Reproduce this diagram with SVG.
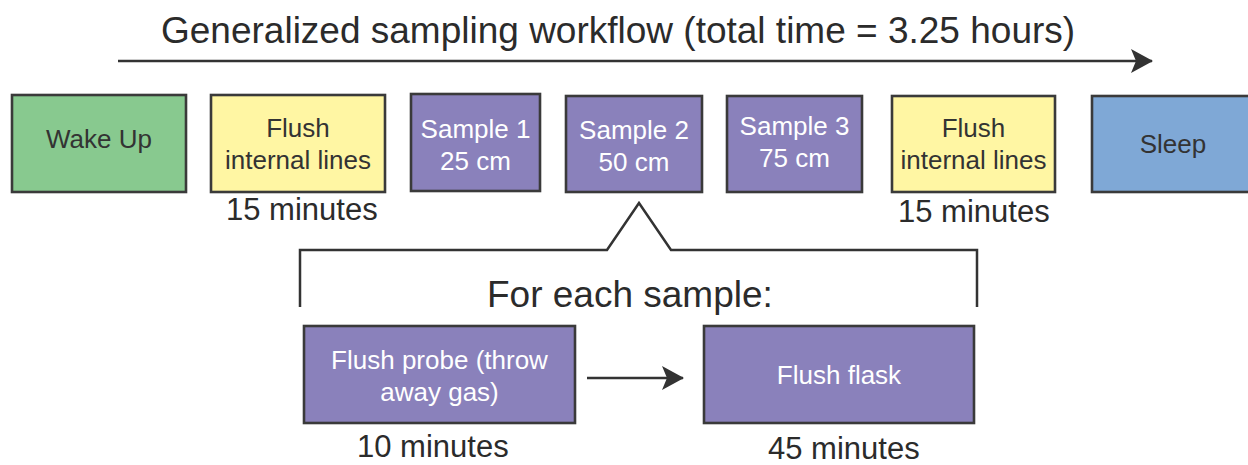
<svg xmlns="http://www.w3.org/2000/svg" width="1248" height="465" viewBox="0 0 1248 465">
<defs>
<style>
.box{stroke:#3a3a3a;stroke-width:2.6}
.g{fill:#88c98f}.y{fill:#fff6a3}.p{fill:#8a81bb}.b{fill:#7fa8d6}
text{font-family:"Liberation Sans",Arial,Helvetica,sans-serif}
.t{font-size:26px;fill:#333;text-anchor:middle}
.w{font-size:26px;fill:#fff;text-anchor:middle}
.m{font-size:31px;fill:#2b2b2b}
.h{font-size:37px;fill:#2b2b2b}
.ln{stroke:#333;stroke-width:2.5;fill:none}
</style>
<marker id="ah" viewBox="0 0 22 24" refX="21" refY="12" markerWidth="22" markerHeight="24" markerUnits="userSpaceOnUse" orient="auto">
<path d="M0,0 L22,12 L0,24 L5,12 Z" fill="#333"/>
</marker>
</defs>
<rect width="1248" height="465" fill="#ffffff"/>
<g id="title">
<text class="h" x="161" y="43">Generalized sampling workflow (total time = 3.25 hours)</text>
</g>
<g id="connectors">
<line class="ln" x1="118" y1="61" x2="1152" y2="61" marker-end="url(#ah)"/>
<line class="ln" x1="587" y1="378" x2="683" y2="378" marker-end="url(#ah)"/>
<path class="ln" d="M300,307 L300,250 L607,250 L639,203 L671,250 L977,250 L977,307"/>
</g>
<g id="wake">
<rect class="box g" x="12" y="95" width="174" height="97"/>
<text class="t" x="99" y="148">Wake Up</text>
</g>
<g id="flush1">
<rect class="box y" x="211" y="95" width="174" height="97"/>
<text class="t" x="298" y="137">Flush</text>
<text class="t" x="298" y="169">internal lines</text>
<text class="m" x="226" y="220">15 minutes</text>
</g>
<g id="sample1">
<rect class="box p" x="411" y="94" width="129" height="97"/>
<text class="w" x="475.5" y="138">Sample 1</text>
<text class="w" x="475.5" y="170">25 cm</text>
</g>
<g id="sample2">
<rect class="box p" x="566" y="96" width="136" height="96"/>
<text class="w" x="634" y="139">Sample 2</text>
<text class="w" x="634" y="171">50 cm</text>
</g>
<g id="sample3">
<rect class="box p" x="727" y="96" width="135" height="96"/>
<text class="w" x="794.5" y="135">Sample 3</text>
<text class="w" x="794.5" y="167">75 cm</text>
</g>
<g id="flush2">
<rect class="box y" x="892" y="96" width="163" height="96"/>
<text class="t" x="973.5" y="137">Flush</text>
<text class="t" x="973.5" y="169">internal lines</text>
<text class="m" x="898" y="222">15 minutes</text>
</g>
<g id="sleep">
<rect class="box b" x="1092" y="96" width="160" height="96"/>
<text class="t" x="1173" y="153">Sleep</text>
</g>
<g id="foreach">
<text class="h" x="487" y="307">For each sample:</text>
</g>
<g id="probe">
<rect class="box p" x="304" y="326" width="271" height="97"/>
<text class="w" x="439.5" y="369">Flush probe (throw</text>
<text class="w" x="439.5" y="401">away gas)</text>
<text class="m" x="357" y="457">10 minutes</text>
</g>
<g id="flask">
<rect class="box p" x="704" y="326" width="270" height="97"/>
<text class="w" x="839" y="384">Flush flask</text>
<text class="m" x="768" y="459">45 minutes</text>
</g>
</svg>
